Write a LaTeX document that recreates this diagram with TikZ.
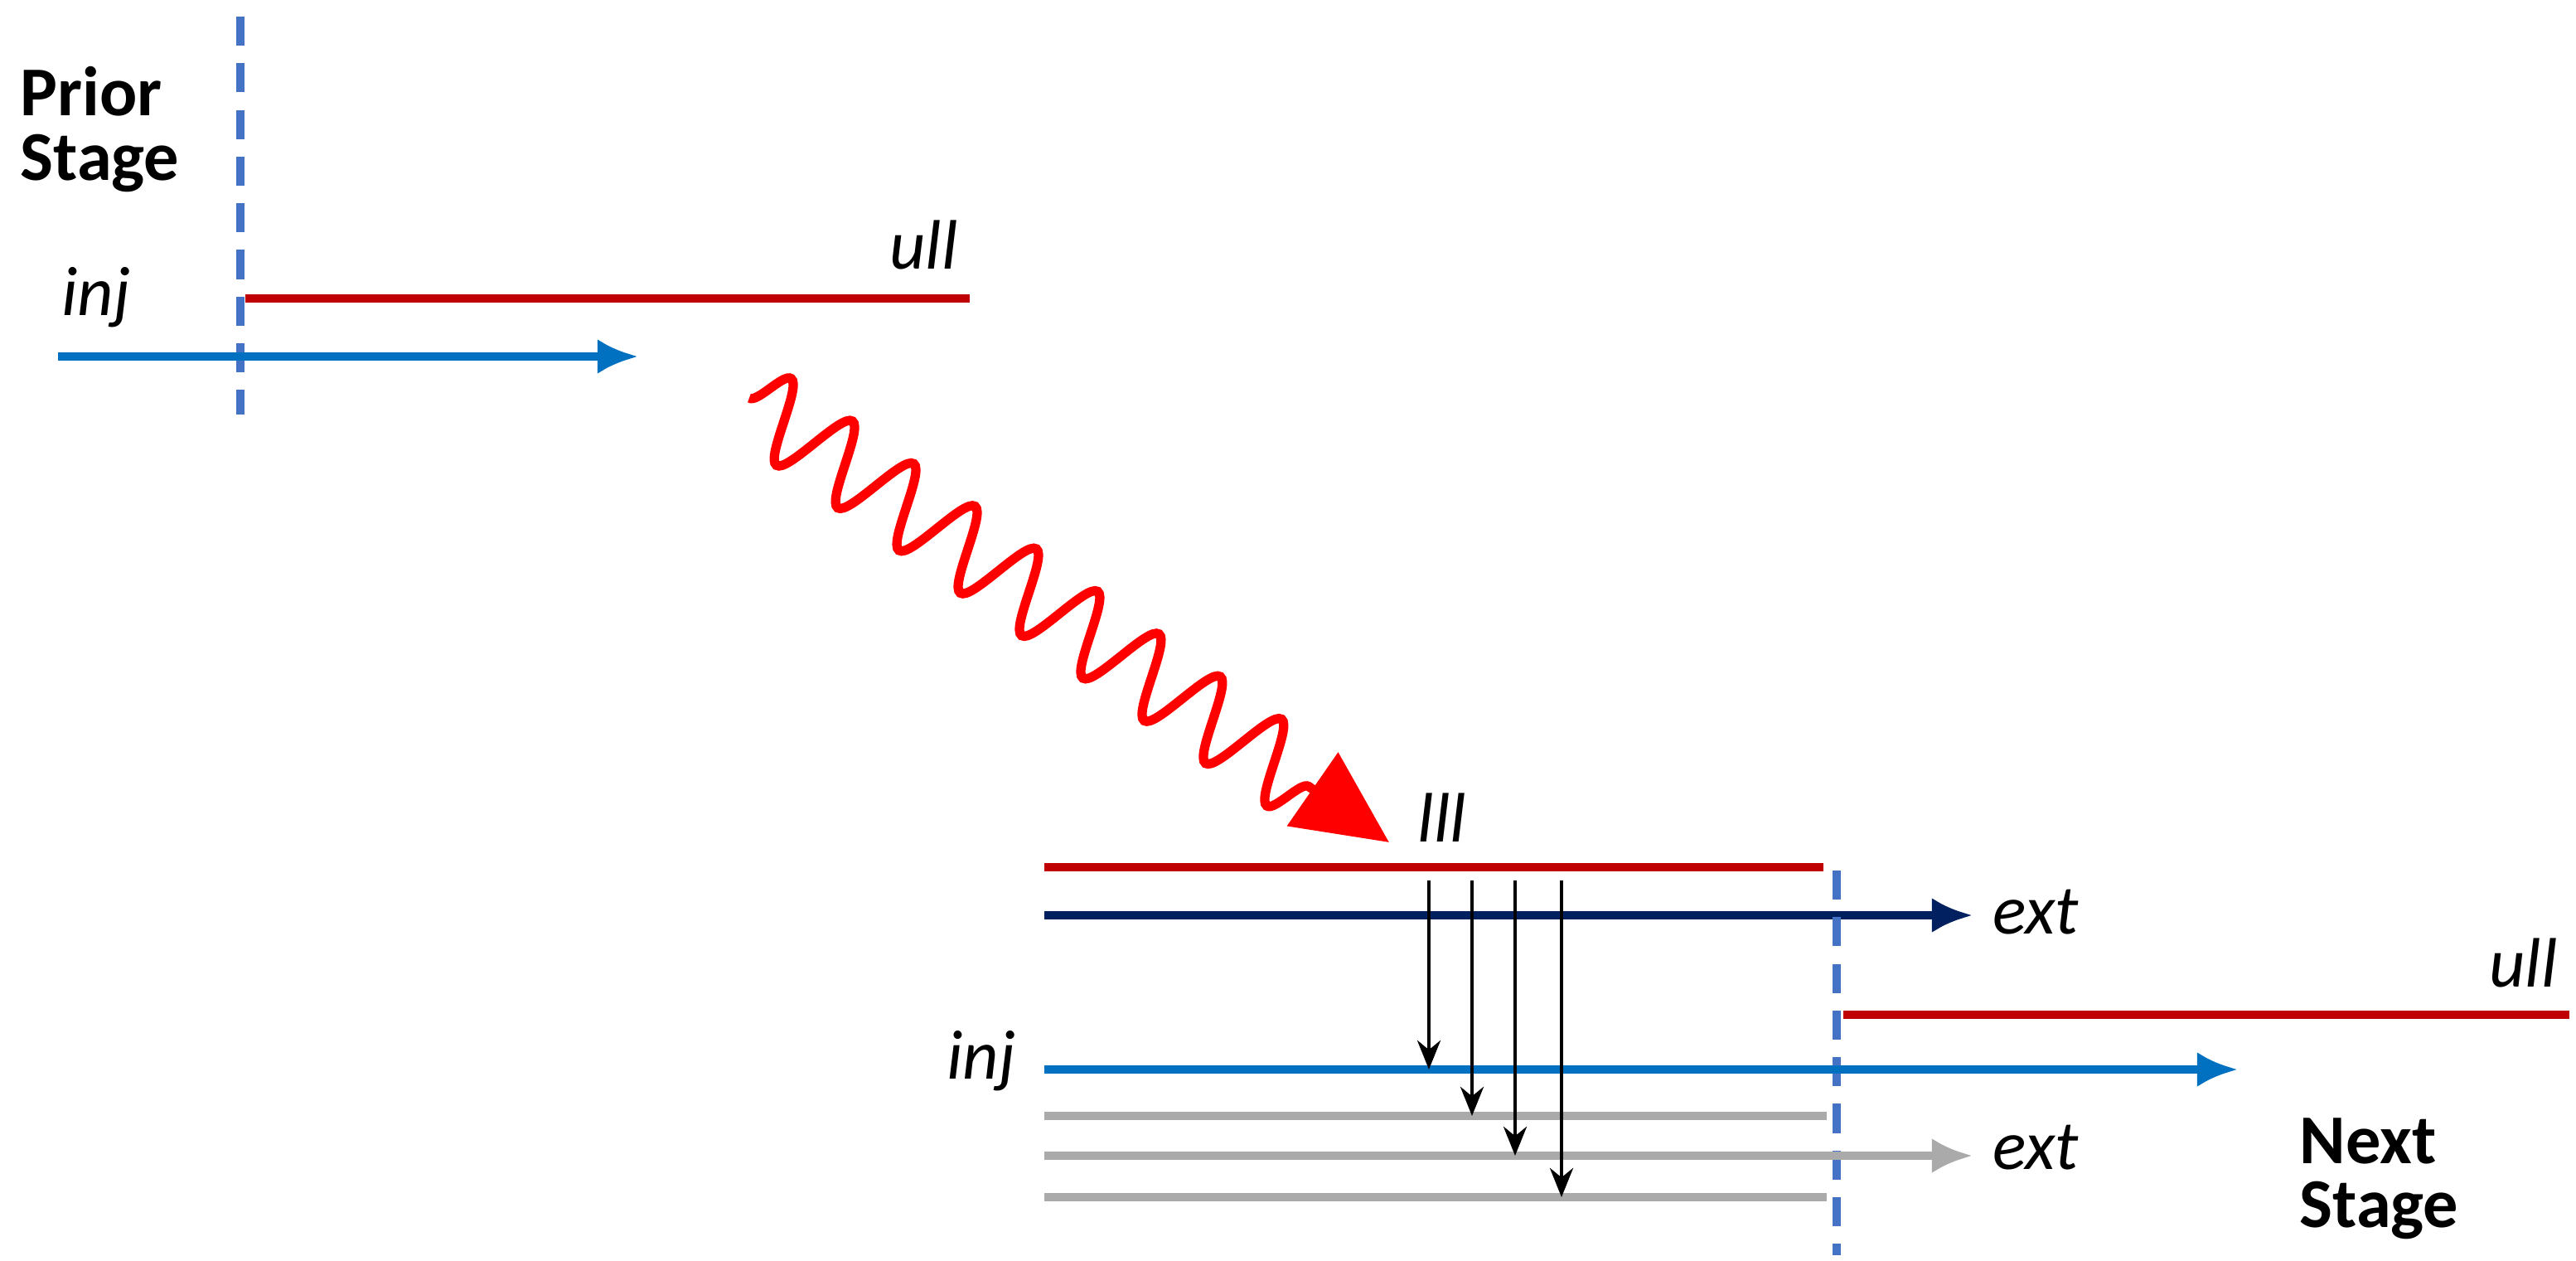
\documentclass[tikz,border=0pt]{standalone}
\usepackage{fontspec}
\setmainfont{Carlito}
\usetikzlibrary{arrows.meta,decorations.pathmorphing}
\definecolor{lvl_red}{RGB}{192,0,0}
\definecolor{beam_blue}{RGB}{0,112,192}
\definecolor{beam_navy}{RGB}{0,32,96}
\definecolor{beam_gray}{RGB}{170,170,170}
\definecolor{dash_blue}{RGB}{68,114,196}
\definecolor{wave_red}{RGB}{255,0,0}
\begin{document}
\begin{tikzpicture}[x=0.01cm,y=-0.01cm,line width=1.3pt]
    \tikzset{lvl/.style={draw=lvl_red},
             beam/.style={-{Latex[length=7pt,width=6pt]}},
             stage/.style={draw=dash_blue,dash pattern=on 5pt off 3pt},
             lab/.style={font=\large\itshape,inner sep=0pt},
             big/.style={font=\large\bfseries,align=left,inner sep=0pt,anchor=north west},
             drop/.style={black,line width=0.6pt,-{Stealth[length=5pt,width=4pt]}}}
    \useasboundingbox (0,0) rectangle (1554,760);

    % prior stage
    \node[big] (prior) at (10,38) {Prior\\[-3pt]Stage};
    \coordinate (pt) at (145,10); \coordinate (pb) at (145,250);
    \draw[stage] (pt) -- (pb);
    \coordinate (u1a) at (148,180); \coordinate (u1b) at (585,180);
    \draw[lvl] (u1a) -- (u1b);
    \node[lab,anchor=south east] (ull1) at (580,165) {ull};
    \coordinate (i1a) at (35,215); \coordinate (i1b) at (385,215);
    \draw[beam,beam_blue] (i1a) -- (i1b);
    \node[lab,anchor=south west] (inj1) at (35,200) {inj};

    % photon
    \coordinate (wa) at (452,240); \coordinate (wc) at (838,508);
    \draw[wave_red,line width=1.6pt,decorate,-{Triangle[length=16pt,width=15pt]},
          decoration={snake,segment length=0.45cm,amplitude=0.24cm,post length=0.45cm}] (wa) -- (wc);

    % lower level
    \coordinate (la) at (630,523); \coordinate (lb) at (1100,523);
    \draw[lvl] (la) -- (lb);
    \node[lab,anchor=south] (lll) at (870,510) {lll};
    \coordinate (xa) at (630,552); \coordinate (xb) at (1190,552);
    \draw[beam,beam_navy] (xa) -- (xb);
    \node[lab,anchor=west] (ext1) at (1200,550) {ext};

    % next stage
    \coordinate (nt) at (1108,525); \coordinate (nb) at (1108,757);
    \draw[stage] (nt) -- (nb);
    \coordinate (u2a) at (1112,612); \coordinate (u2b) at (1550,612);
    \draw[lvl] (u2a) -- (u2b);
    \node[lab,anchor=south east] (ull2) at (1545,598) {ull};
    \coordinate (i2a) at (630,645); \coordinate (i2b) at (1350,645);
    \draw[beam,beam_blue] (i2a) -- (i2b);
    \node[lab,anchor=east] (inj2) at (615,640) {inj};
    \node[big] (next) at (1385,672) {Next\\[-3pt]Stage};

    % gray copies
    \foreach \y/\e in {673/1102,722/1102}
        \draw[beam_gray] (630,\y) -- (\e,\y);
    \coordinate (ga) at (630,697); \coordinate (gb) at (1190,697);
    \draw[beam,beam_gray] (ga) -- (gb);
    \node[lab,anchor=west] (ext2) at (1200,692) {ext};

    % decays
    \foreach \x/\y in {862/645,888/673,914/697,942/722}
        \draw[drop] (\x,531) -- (\x,\y);
\end{tikzpicture}
\end{document}
